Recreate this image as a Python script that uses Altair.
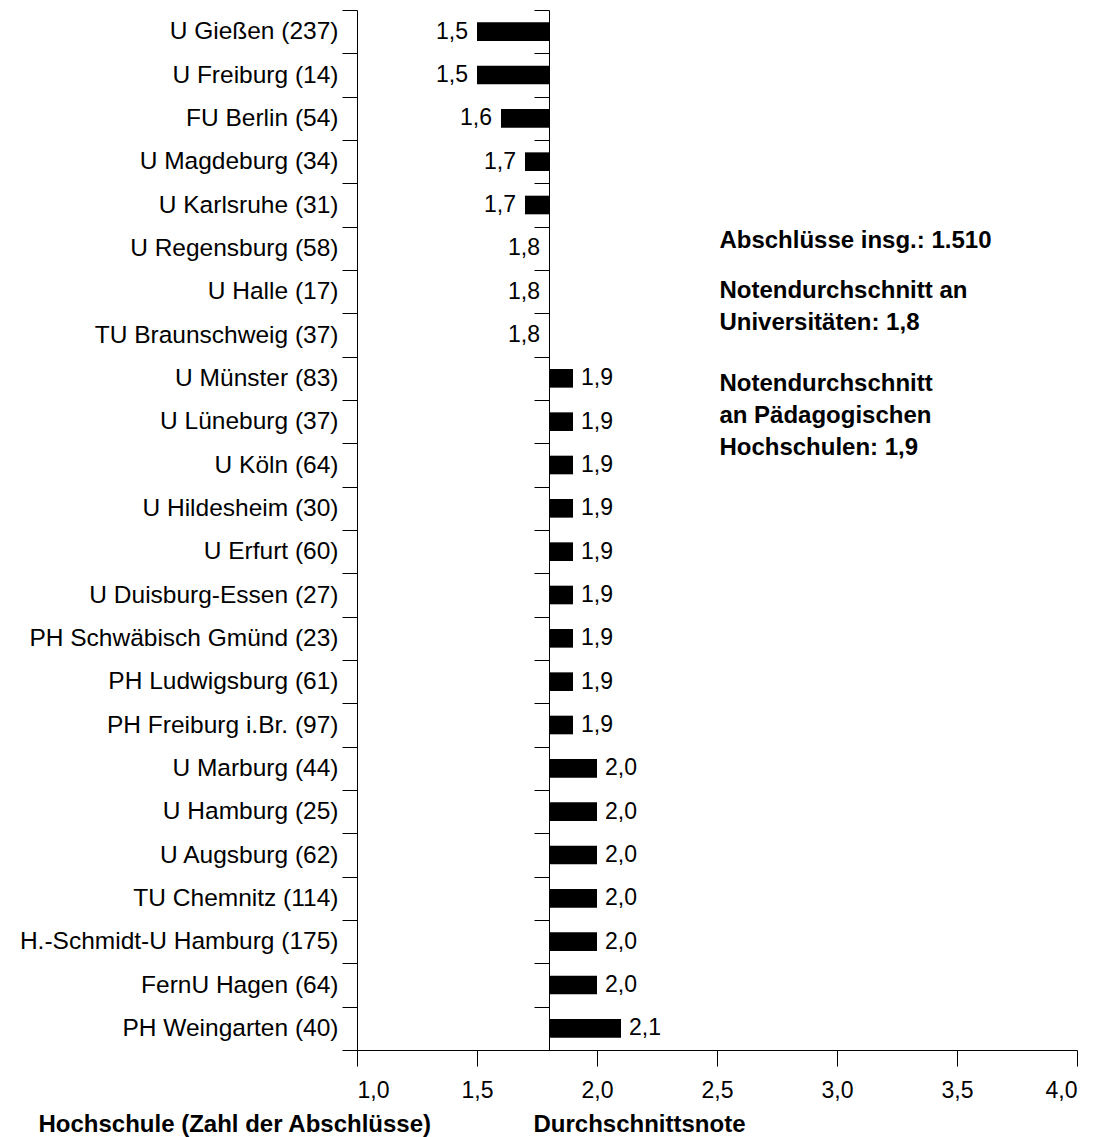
import altair as alt
import pandas as pd

hochschulen = [
    "U Gießen (237)", "U Freiburg (14)", "FU Berlin (54)", "U Magdeburg (34)",
    "U Karlsruhe (31)", "U Regensburg (58)", "U Halle (17)", "TU Braunschweig (37)",
    "U Münster (83)", "U Lüneburg (37)", "U Köln (64)", "U Hildesheim (30)",
    "U Erfurt (60)", "U Duisburg-Essen (27)", "PH Schwäbisch Gmünd (23)",
    "PH Ludwigsburg (61)", "PH Freiburg i.Br. (97)", "U Marburg (44)",
    "U Hamburg (25)", "U Augsburg (62)", "TU Chemnitz (114)",
    "H.-Schmidt-U Hamburg (175)", "FernU Hagen (64)", "PH Weingarten (40)",
]
noten = [1.5, 1.5, 1.6, 1.7, 1.7, 1.8, 1.8, 1.8,
         1.9, 1.9, 1.9, 1.9, 1.9, 1.9, 1.9, 1.9, 1.9,
         2.0, 2.0, 2.0, 2.0, 2.0, 2.0, 2.1]
basis = 1.8
x_ticks = [1.0, 1.5, 2.0, 2.5, 3.0, 3.5, 4.0]
info_blocks = [
    "Abschlüsse insg.: 1.510",
    "Notendurchschnitt an\nUniversitäten: 1,8",
    "Notendurchschnitt\nan Pädagogischen\nHochschulen: 1,9",
]
info_top = [219, 269, 362]

df = pd.DataFrame({"hs": hochschulen, "note": noten})
df["basis"] = basis

FONT = "Liberation Sans"
W, H = 720, 1040

yscale = alt.Scale(domain=hochschulen, paddingInner=0, paddingOuter=0)
xscale = alt.Scale(domain=[1.0, 4.0], nice=False, zero=False)

x_axis = alt.Axis(
    values=x_ticks, tickSize=16, labelPadding=13, labelFontSize=23,
    labelFont=FONT, labelColor="black", domainColor="black", tickColor="black",
    grid=False,
    labelExpr="replace(format(datum.value, '.1f'), '.', ',')",
    title="Durchschnittsnote", titleFont=FONT, titleFontSize=24,
    titleFontWeight="bold", titleColor="black", titleAlign="left",
    titleBaseline="middle", titleX=176, titleY=74, titleAngle=0)

bars = alt.Chart(df).mark_bar(color="black", height={"band": 0.43}).encode(
    x=alt.X("note:Q", scale=xscale, axis=x_axis),
    x2="basis:Q",
    y=alt.Y("hs:N", sort=hochschulen, scale=yscale, axis=alt.Axis(
        tickBand="extent", tickSize=15, labelPadding=4, labelFontSize=24.5,
        labelFont=FONT, labelColor="black", domainColor="black", tickColor="black",
        labelLimit=400,
        title="Hochschule (Zahl der Abschlüsse)", titleFont=FONT, titleFontSize=24,
        titleFontWeight="bold", titleColor="black", titleAngle=0, titleAlign="left",
        titleBaseline="middle", titleX=-319, titleY=1114)),
)

base_lab = alt.Chart(df).transform_calculate(
    lab="replace(format(datum.note, '.1f'), '.', ',')",
)

labels_right = base_lab.transform_filter("datum.note > 1.8").mark_text(
    font=FONT, fontSize=23, color="black", baseline="middle", align="left", dx=8,
).encode(
    x=alt.X("note:Q", scale=xscale, axis=x_axis),
    y=alt.Y("hs:N", sort=hochschulen, scale=yscale, axis=alt.Axis(
        tickBand="extent", tickSize=15, labels=False, title=None, offset=-192,
        domainColor="black", tickColor="black", orient="left")),
    text="lab:N",
)

labels_left = base_lab.transform_filter("datum.note <= 1.8").mark_text(
    font=FONT, fontSize=23, color="black", baseline="middle", align="right", dx=-9,
).encode(
    x=alt.X("note:Q", scale=xscale, axis=x_axis),
    y=alt.Y("hs:N", sort=hochschulen, scale=yscale, axis=None),
    text="lab:N",
)

info_df = pd.DataFrame({"t": info_blocks, "py": info_top})
info_df["x"] = 2.51
info = alt.Chart(info_df).mark_text(
    font=FONT, fontSize=24, fontWeight="bold", color="black",
    align="left", baseline="top", lineBreak="\n", lineHeight=32,
).encode(
    x=alt.X("x:Q", scale=xscale, axis=x_axis),
    y=alt.Y("py:Q", scale=None, axis=None),
    text="t:N",
)

chart = alt.layer(bars, labels_right, labels_left, info).resolve_axis(
    y="independent"
).properties(
    width=W, height=H,
    padding={"left": 349, "top": 2, "right": 17, "bottom": 87},
    autosize="none",
).configure_view(stroke=None)

chart.save("out.html", embed_options={"renderer": "svg", "actions": False})
